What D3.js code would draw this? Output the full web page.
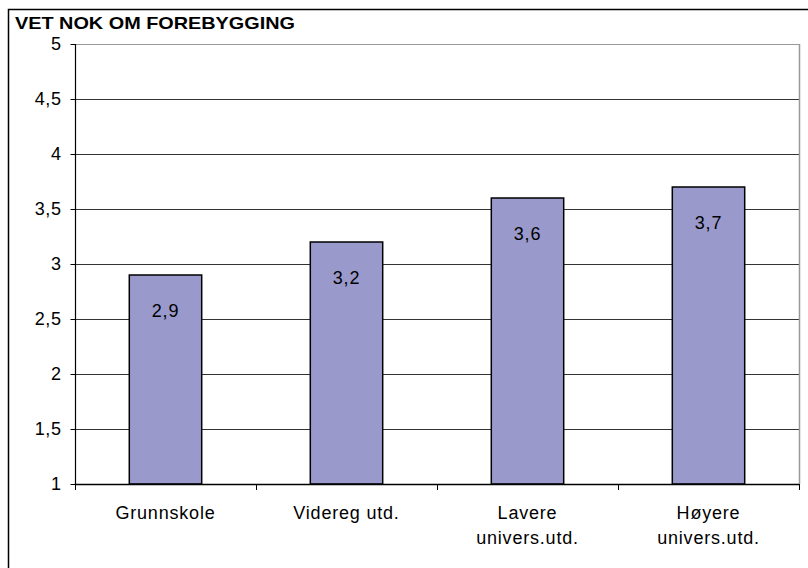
<!DOCTYPE html>
<html><head><meta charset="utf-8">
<script src="https://cdn.jsdelivr.net/npm/d3@7"></script>
<style>body{margin:0;background:#fff}svg{display:block}text{font-family:"Liberation Sans",Arial,sans-serif}</style>
</head><body><svg id="c" width="808" height="568"></svg>
<script>
const title = "VET NOK OM FOREBYGGING";
const categories = [["Grunnskole"],["Videreg utd."],["Lavere","univers.utd."],["Høyere","univers.utd."]];
const values = [2.9, 3.2, 3.6, 3.7];
const valueLabels = ["2,9","3,2","3,6","3,7"];
const yTicks = [1,1.5,2,2.5,3,3.5,4,4.5,5];
const yTickLabels = ["1","1,5","2","2,5","3","3,5","4","4,5","5"];

const svg = d3.select("#c");
const L=75,R=799,T=44,B=484;
// outer frame
svg.append("rect").attr("x",8.5).attr("y",9.5).attr("width",850).attr("height",600).attr("fill","none").attr("stroke","#000").attr("stroke-width",1.5);
svg.append("text").attr("x",15).attr("y",29).attr("font-size",17).attr("font-weight","bold")
  .attr("textLength",280).attr("lengthAdjust","spacingAndGlyphs").text(title);

const x = d3.scaleBand().domain(d3.range(categories.length)).range([L,R]).paddingInner(0.6).paddingOuter(0.3);
const xb = d3.scaleBand().domain(d3.range(categories.length)).range([L,R]);
const y = d3.scaleLinear().domain([1,5]).range([B,T]);

// gridlines
svg.append("g").selectAll("line").data(yTicks.slice(1)).join("line")
  .attr("x1",L).attr("x2",R).attr("y1",d=>Math.round(y(d))+0.5).attr("y2",d=>Math.round(y(d))+0.5)
  .attr("stroke",d=>d===5?"#999":"#333").attr("stroke-width",1);
// right plot border
svg.append("line").attr("x1",R+0.5).attr("x2",R+0.5).attr("y1",T).attr("y2",B).attr("stroke","#999").attr("stroke-width",1.5);

// bars
svg.append("g").selectAll("rect").data(values).join("rect")
  .attr("x",(d,i)=>x(i)).attr("width",x.bandwidth())
  .attr("y",d=>y(d)).attr("height",d=>B-y(d))
  .attr("fill","#9999CC").attr("stroke","#000").attr("stroke-width",1.5);
svg.append("g").selectAll("text").data(values).join("text")
  .attr("x",(d,i)=>x(i)+x.bandwidth()/2).attr("y",d=>y(d)+42)
  .attr("text-anchor","middle").attr("font-size",18).attr("letter-spacing",0.8).attr("fill","#000")
  .text((d,i)=>valueLabels[i]);

// y axis
const ya = d3.axisLeft(y).tickValues(yTicks).tickFormat((d,i)=>yTickLabels[i]).tickSize(5).tickPadding(9);
const gy = svg.append("g").attr("transform",`translate(${L+0.5},0)`).call(ya);
gy.select(".domain").attr("stroke","#000").attr("stroke-width",1.2).attr("d",`M0,${T}V${B}`);
gy.selectAll(".tick line").attr("stroke","#000");
gy.selectAll(".tick text").attr("font-size",18).attr("letter-spacing",0.6).attr("font-family","Liberation Sans, Arial, sans-serif").attr("fill","#000");

// x axis
svg.append("line").attr("x1",L).attr("x2",R).attr("y1",B+0.5).attr("y2",B+0.5).attr("stroke","#000").attr("stroke-width",1.5);
svg.append("g").selectAll("line").data(d3.range(categories.length+1)).join("line")
  .attr("x1",i=>Math.round(L+i*xb.step())+0.5).attr("x2",i=>Math.round(L+i*xb.step())+0.5)
  .attr("y1",B).attr("y2",B+6).attr("stroke","#000");
const cl = svg.append("g").selectAll("text").data(categories).join("text")
  .attr("x",(d,i)=>xb(i)+xb.bandwidth()/2).attr("y",519)
  .attr("text-anchor","middle").attr("font-size",18).attr("letter-spacing",0.8).attr("fill","#000");
cl.selectAll("tspan").data(d=>d).join("tspan")
  .attr("x",function(){return this.parentNode.getAttribute("x");})
  .attr("dy",(d,i)=>i===0?0:25).text(d=>d);
</script></body></html>
